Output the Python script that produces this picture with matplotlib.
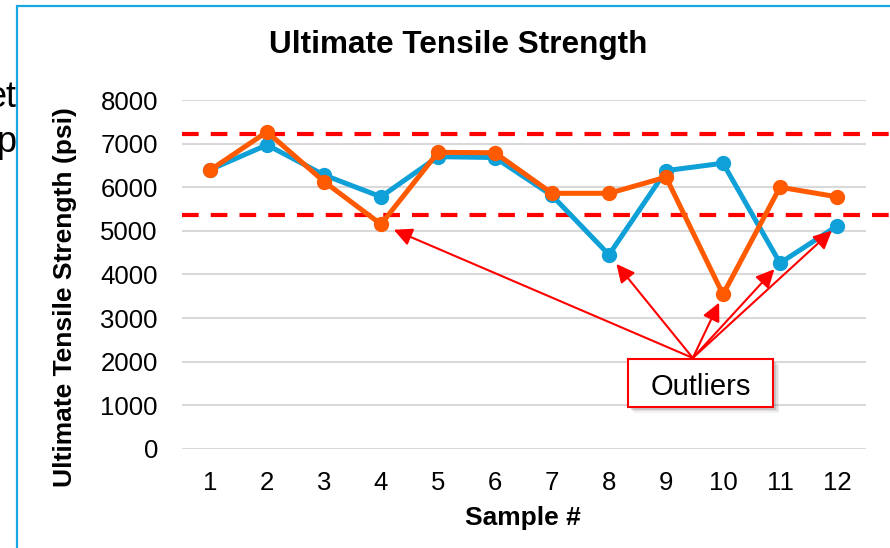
import numpy as np
import matplotlib
matplotlib.use("Agg")
import matplotlib.pyplot as plt
from matplotlib.patches import Rectangle
from matplotlib.lines import Line2D

# chart data
samples = list(range(1, 13))
series_blue = [6400, 6970, 6280, 5780, 6700, 6680, 5810, 4450, 6380, 6550, 4260, 5110]
series_orange = [6390, 7270, 6130, 5150, 6800, 6790, 5860, 5860, 6230, 3540, 6000, 5780]
upper_limit = 7210
lower_limit = 5360
y_ticks = [0, 1000, 2000, 3000, 4000, 5000, 6000, 7000, 8000]

# outlier arrows: (sample, which series, gap at the head in points)
outliers = [(4, "orange", 10), (8, "blue", 8.5), (10, "orange", 6.5),
            (11, "blue", 6), (12, "blue", 5)]

BLUE = "#0FA0D8"
ORANGE = "#FF5A00"
RED = "#FF0000"
GRID = "#D9D9D9"

plt.rcParams["font.family"] = ["Liberation Sans", "DejaVu Sans"]

W, H = 890, 548
fig = plt.figure(figsize=(W / 100, H / 100), dpi=100)


def fx(px):
    return px / W


def fy(py):
    return 1 - py / H


# bits of the slide text behind the chart
fig.text(fx(17), fy(107), "et", fontsize=26, ha="right", va="baseline", zorder=0)
fig.text(fx(17), fy(152), "p", fontsize=26, ha="right", va="baseline", zorder=0)

# chart frame (white, light blue edge running off the picture)
fig.patches.append(Rectangle((fx(17), fy(560)), fx(900), fy(6) - fy(560),
                             transform=fig.transFigure, facecolor="white",
                             edgecolor="#1AA7E0", lw=1.6, zorder=1))

ax = fig.add_axes([fx(181.5), fy(448.8), fx(865.5) - fx(181.5), fy(100) - fy(448.8)])
ax.set_zorder(2)
ax.patch.set_alpha(0)

ax.set_xlim(0.5, 12.5)
ax.set_ylim(0, 8000)
ax.set_yticks(y_ticks)
ax.set_xticks(samples)
ax.tick_params(axis="both", length=0, labelsize=18.5)
ax.tick_params(axis="y", pad=17)
ax.tick_params(axis="x", pad=16)
for s in ax.spines.values():
    s.set_visible(False)
ax.grid(axis="y", color=GRID, lw=1.5)
ax.set_axisbelow(True)

# limit lines go past the plot area to the edge of the picture
for lim in [upper_limit, lower_limit]:
    ln = Line2D([0, 1.2], [lim, lim], transform=ax.get_yaxis_transform(),
                color=RED, lw=3, dashes=(4, 2.9), zorder=2, clip_on=False)
    ax.add_line(ln)

ax.plot(samples, series_blue, color=BLUE, lw=3.6, marker="o", ms=10, zorder=3)
ax.plot(samples, series_orange, color=ORANGE, lw=3.6, marker="o", ms=10, zorder=4)

ax.set_ylabel("Ultimate Tensile Strength (psi)", fontsize=19, fontweight="bold")
ax.yaxis.set_label_coords((77 - 181.5) / 684, 0.435)
ax.set_xlabel("Sample #", fontsize=19, fontweight="bold")
ax.xaxis.set_label_coords((523 - 181.5) / 684, (448.8 - 506) / 348.8)

fig.text(fx(458), fy(45), "Ultimate Tensile Strength", fontsize=22.7,
         fontweight="bold", ha="center", va="center")

# Outliers callout box with a soft shadow
bx0, by0 = 8.33, 960
bx1, by1 = 10.88, 2060
for k, a in [(6, 0.08), (4.5, 0.12), (3, 0.18)]:
    sh = Rectangle((bx0, by0), bx1 - bx0, by1 - by0, facecolor="#555555",
                   edgecolor="none", alpha=a, zorder=5)
    sh.set_transform(ax.transData + matplotlib.transforms.ScaledTranslation(
        k / 100, -k / 100, fig.dpi_scale_trans))
    ax.add_patch(sh)
ax.add_patch(Rectangle((bx0, by0), bx1 - bx0, by1 - by0, facecolor="white",
                       edgecolor=RED, lw=1.5, zorder=6))
ax.text((bx0 + bx1) / 2, 1234, "Outliers", fontsize=21,
        ha="center", va="baseline", zorder=7)

origin = (9.47, 2083)
for smp, which, gap in outliers:
    vals = series_orange if which == "orange" else series_blue
    ax.annotate("", xy=(smp, vals[smp - 1]), xytext=origin,
                arrowprops=dict(arrowstyle="-|>,head_length=0.55,head_width=0.27",
                                color=RED, lw=1.5, mutation_scale=20,
                                shrinkA=0, shrinkB=gap),
                annotation_clip=False, zorder=5)

fig.savefig("out.png", dpi=100)
